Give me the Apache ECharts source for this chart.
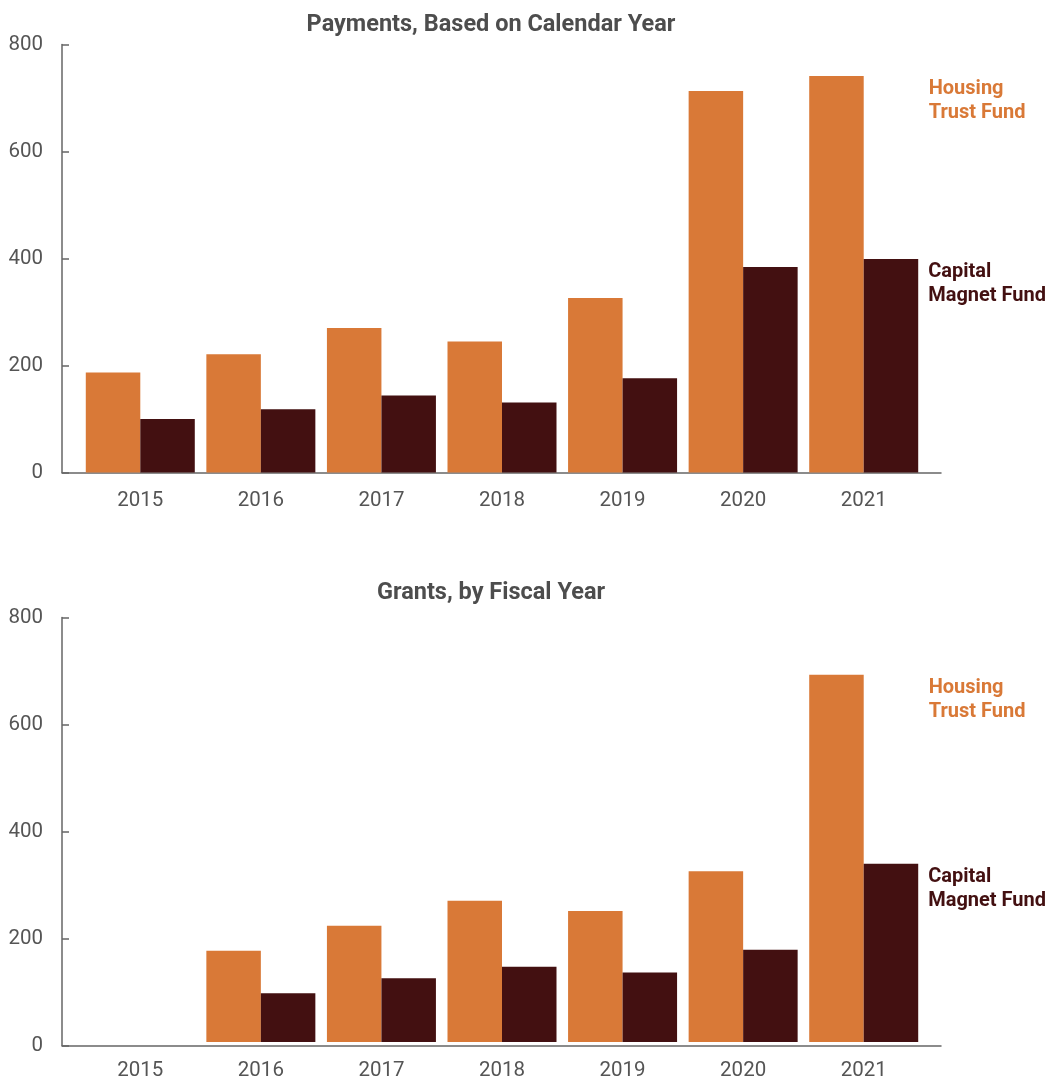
<!DOCTYPE html>
<html>
<head>
<meta charset="utf-8">
<script src="https://cdn.jsdelivr.net/npm/echarts@6/dist/echarts.min.js"></script>
<style>
html,body{margin:0;padding:0;background:#fff;}
#chart{width:1053px;height:1081px;}
</style>
</head>
<body>
<div id="chart"></div>
<script>
const years = ['2015','2016','2017','2018','2019','2020','2021'];
const yTicks = [0, 200, 400, 600, 800];
const paymentsHTF = [187, 221, 270, 245, 326, 713, 741];
const paymentsCMF = [100, 118, 144, 131, 176, 384, 399];
const grantsHTF = [null, 172, 219, 266, 247, 322, 692];
const grantsCMF = [null, 92, 120, 142, 131, 174, 336];
const titles = ['Payments, Based on Calendar Year', 'Grants, by Fiscal Year'];
const seriesNames = ['Housing\nTrust Fund', 'Capital\nMagnet Fund'];

const ORANGE = '#D97937';
const DARK = '#431011';
const AXIS = '#666666';
const TEXT = '#555555';
const FONT = 'Roboto, "Liberation Sans", sans-serif';

const panels = [
  {top: 44.5, htf: paymentsHTF, cmf: paymentsCMF, title: titles[0], titleTop: 8},
  {top: 617.5, htf: grantsHTF, cmf: grantsCMF, title: titles[1], titleTop: 576}
];
const H = 428;

const grid = [], xAxis = [], yAxis = [], series = [], title = [];
panels.forEach((p, i) => {
  const gd = grid.length;
  grid.push({left: 62, right: 112, top: p.top, height: H, containLabel: false});
  grid.push({left: 80, right: 129, top: p.top, height: H, containLabel: false});
  xAxis.push({gridIndex: gd, type: 'value', min: 0, max: 1,
    axisLine: {show: true, onZero: false, lineStyle: {color: AXIS, width: 1.5}},
    axisTick: {show: false}, axisLabel: {show: false}, splitLine: {show: false}});
  yAxis.push({gridIndex: gd, type: 'value', min: yTicks[0], max: yTicks[yTicks.length-1], interval: 200,
    axisLine: {show: true, lineStyle: {color: AXIS, width: 1.5}},
    axisTick: {show: true, inside: true, length: 7, lineStyle: {color: AXIS, width: 1.5}},
    axisLabel: {show: true, color: TEXT, fontSize: 20.5, fontFamily: FONT, margin: 19},
    splitLine: {show: false}});
  xAxis.push({gridIndex: gd+1, type: 'category', data: years,
    axisLine: {show: false}, axisTick: {show: false},
    axisLabel: {color: TEXT, fontSize: 20.5, fontFamily: FONT, margin: 18}});
  yAxis.push({gridIndex: gd+1, type: 'value', min: 0, max: 800, show: false});
  const xi = xAxis.length - 1, yi = yAxis.length - 1;
  const lastIdx = years.length - 1;
  const mkData = (arr, color, offX) => arr.map((v, k) => {
    const d = {value: v};
    if (k === lastIdx) {
      d.label = {show: true, position: ['100%', 0], offset: [offX, 1], align: 'left', verticalAlign: 'top',
        color: color, fontSize: 20, fontWeight: 'bold', fontFamily: FONT, lineHeight: 24,
        formatter: '{a}'};
    }
    return d;
  });
  series.push({type: 'bar', name: seriesNames[0], xAxisIndex: xi, yAxisIndex: yi,
    barWidth: 54.5, barGap: '0%', itemStyle: {color: ORANGE}, silent: true,
    data: mkData(p.htf, ORANGE, 65)});
  series.push({type: 'bar', name: seriesNames[1], xAxisIndex: xi, yAxisIndex: yi,
    barWidth: 54.5, barGap: '0%', itemStyle: {color: DARK}, silent: true,
    data: mkData(p.cmf, DARK, 10)});
  title.push({text: p.title, left: 486, textAlign: 'center', top: p.titleTop,
    textStyle: {color: '#4d4d4d', fontSize: 23.5, fontWeight: 'bold', fontFamily: FONT}});
});

const chart = echarts.init(document.getElementById('chart'), null, {renderer: 'canvas'});
chart.setOption({
  animation: false,
  backgroundColor: '#ffffff',
  title, grid, xAxis, yAxis, series
});
</script>
</body>
</html>
